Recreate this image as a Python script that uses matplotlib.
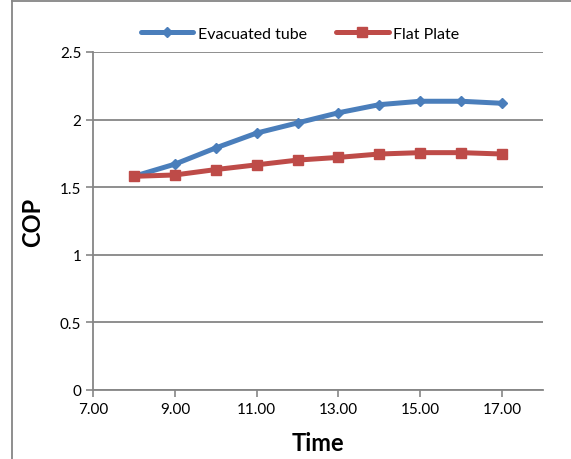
import matplotlib.pyplot as plt
from matplotlib.lines import Line2D

time = [8, 9, 10, 11, 12, 13, 14, 15, 16, 17]
evacuated = [1.58, 1.67, 1.79, 1.90, 1.975, 2.05, 2.11, 2.135, 2.135, 2.12]
flat = [1.58, 1.59, 1.63, 1.665, 1.70, 1.72, 1.745, 1.755, 1.755, 1.745]
xticks = [7, 9, 11, 13, 15, 17]
yticks = [0, 0.5, 1, 1.5, 2, 2.5]

plt.rcParams['font.family'] = ['Lato', 'DejaVu Sans']
grey = '#868686'

fig = plt.figure(figsize=(5.71, 4.6), dpi=100)
ax = fig.add_axes([0.163, 0.15, 0.788, 0.735])

ax.plot(time, evacuated, color='#4A7EBB', lw=3.6, marker='D', ms=5,
        label='Evacuated tube', solid_capstyle='round')
ax.plot(time, flat, color='#BE4B48', lw=3.6, marker='s', ms=7,
        label='Flat Plate', solid_capstyle='round')

ax.set_xlim(7, 18)
ax.set_ylim(0, 2.5)
ax.set_xticks(xticks)
ax.set_xticklabels(['%.2f' % v for v in xticks])
ax.set_yticks(yticks)
ax.set_yticklabels(['0', '0.5', '1', '1.5', '2', '2.5'])
ax.tick_params(labelsize=11, color=grey, width=1.2, length=5)
ax.yaxis.grid(True, color=grey, lw=1.3)
ax.set_axisbelow(True)
for s in ['top', 'right']:
    ax.spines[s].set_visible(False)
for s in ['left', 'bottom']:
    ax.spines[s].set_color(grey)
    ax.spines[s].set_linewidth(1.3)

ax.set_xlabel('Time', fontsize=17, fontweight='bold', labelpad=11)
ax.set_ylabel('COP', fontsize=17, fontweight='bold', labelpad=11)

ax.legend(loc='lower center', bbox_to_anchor=(0.46, 1.0), ncol=2, frameon=False,
          fontsize=11.5, handlelength=3.3, handletextpad=0.3, columnspacing=1.8,
          borderaxespad=0.3)

# outer chart border
fig.add_artist(Line2D([0.021, 0.021], [0, 0.996], color=grey, lw=1.3))
fig.add_artist(Line2D([0.021, 1.0], [0.996, 0.996], color=grey, lw=1.3))

fig.savefig('out.png', dpi=100)
plt.close(fig)
